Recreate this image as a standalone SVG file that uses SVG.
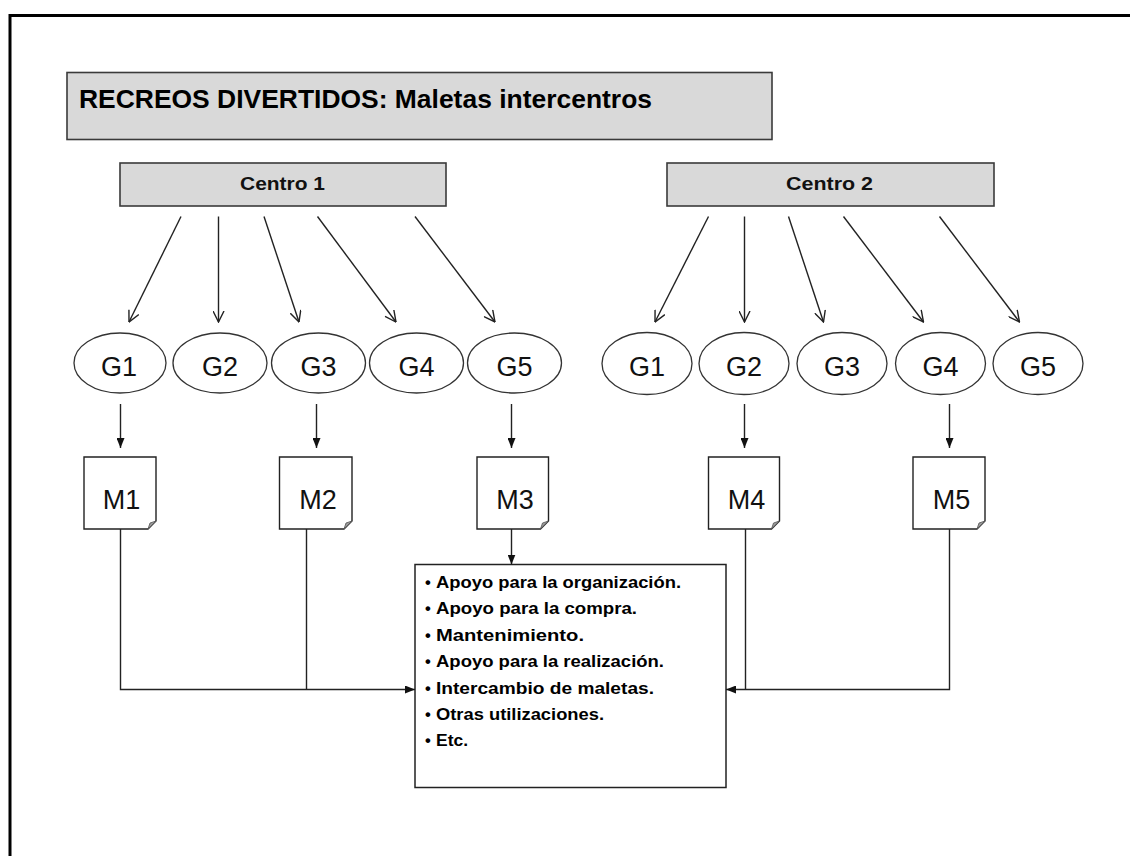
<svg xmlns="http://www.w3.org/2000/svg" width="1130" height="856" viewBox="0 0 1130 856">
  <style>
    .hdr { fill: #d9d9d9; stroke: #3a3a3a; stroke-width: 1.6; }
    .grp { fill: #ffffff; stroke: #333333; stroke-width: 1.3; }
    .doc { fill: #ffffff; stroke: #222222; stroke-width: 1.4; }
    .fold { fill: #9a9a9a; stroke: #555555; stroke-width: 0.8; }
    .list { fill: #ffffff; stroke: #222222; stroke-width: 1.5; }
    .t-title { font-family: "Liberation Sans", Arial, sans-serif; font-weight: bold; font-size: 26px; fill: #000; }
    .t-hdr { font-family: "Liberation Sans", Arial, sans-serif; font-weight: bold; font-size: 19px; fill: #111; }
    .t-node { font-family: "Liberation Sans", Arial, sans-serif; font-size: 27px; fill: #111; text-anchor: middle; }
    .t-item { font-family: "Liberation Sans", Arial, sans-serif; font-weight: bold; font-size: 16.5px; fill: #000; }
    .edge { fill: none; stroke: #222222; stroke-width: 1.4; }
    .fan { marker-end: url(#open); }
    .solid { marker-end: url(#filled); }
  </style>
  <defs>
    <marker id="open" viewBox="0 0 12 12" refX="11.5" refY="6" markerWidth="12" markerHeight="12" markerUnits="userSpaceOnUse" orient="auto">
      <path d="M0.5,0.5 L11.5,6 L0.5,11.5" fill="none" stroke="#222222" stroke-width="1.4"/>
    </marker>
    <marker id="filled" viewBox="0 0 10 8" refX="10" refY="4" markerWidth="10" markerHeight="8" markerUnits="userSpaceOnUse" orient="auto">
      <path d="M0,0 L10,4 L0,8 Z" fill="#111111"/>
    </marker>
  </defs>

  <rect width="1130" height="856" fill="#ffffff"/>
  <!-- page frame -->
  <rect x="10" y="15.5" width="1300" height="1000" fill="none" stroke="#000000" stroke-width="3"/>

  <g id="title">
    <rect class="hdr" x="67" y="72.5" width="705" height="67"/>
    <text class="t-title" x="79" y="108" textLength="573" lengthAdjust="spacingAndGlyphs">RECREOS DIVERTIDOS: Maletas intercentros</text>
  </g>

  <g id="centro1">
    <rect class="hdr" x="120" y="163" width="326" height="43"/>
    <text class="t-hdr" x="240" y="190" textLength="85" lengthAdjust="spacingAndGlyphs">Centro 1</text>
  </g>
  <g id="centro2">
    <rect class="hdr" x="667" y="163" width="327" height="43"/>
    <text class="t-hdr" x="786" y="190" textLength="87" lengthAdjust="spacingAndGlyphs">Centro 2</text>
  </g>

  <!-- groups of Centro 1 -->
  <g id="c1-g1"><ellipse class="grp" cx="120" cy="363" rx="46" ry="30"/><text class="t-node" x="119" y="376">G1</text></g>
  <g id="c1-g2"><ellipse class="grp" cx="220" cy="363" rx="47" ry="30"/><text class="t-node" x="220" y="376">G2</text></g>
  <g id="c1-g3"><ellipse class="grp" cx="318.5" cy="363" rx="47" ry="30"/><text class="t-node" x="318.5" y="376">G3</text></g>
  <g id="c1-g4"><ellipse class="grp" cx="416.5" cy="363" rx="47" ry="30"/><text class="t-node" x="416.5" y="376">G4</text></g>
  <g id="c1-g5"><ellipse class="grp" cx="514.5" cy="363" rx="47" ry="30"/><text class="t-node" x="514.5" y="376">G5</text></g>

  <!-- groups of Centro 2 -->
  <g id="c2-g1"><ellipse class="grp" cx="647" cy="363.5" rx="45" ry="31"/><text class="t-node" x="647" y="376">G1</text></g>
  <g id="c2-g2"><ellipse class="grp" cx="744" cy="363.5" rx="45" ry="31"/><text class="t-node" x="744" y="376">G2</text></g>
  <g id="c2-g3"><ellipse class="grp" cx="842" cy="363.5" rx="45" ry="31"/><text class="t-node" x="842" y="376">G3</text></g>
  <g id="c2-g4"><ellipse class="grp" cx="940.5" cy="363.5" rx="45" ry="31"/><text class="t-node" x="940.5" y="376">G4</text></g>
  <g id="c2-g5"><ellipse class="grp" cx="1038" cy="363.5" rx="45" ry="31"/><text class="t-node" x="1038" y="376">G5</text></g>

  <!-- suitcases (document shapes with folded corner) -->
  <g id="m1">
    <path class="doc" d="M84,457 H156 V521 L148,529 H84 Z"/>
    <path class="fold" d="M156,521 L148,529 L150,523 Z"/>
    <text class="t-node" x="121.5" y="509">M1</text>
  </g>
  <g id="m2">
    <path class="doc" d="M279.5,457 H352 V521 L344,529 H279.5 Z"/>
    <path class="fold" d="M352,521 L344,529 L346,523 Z"/>
    <text class="t-node" x="318" y="509">M2</text>
  </g>
  <g id="m3">
    <path class="doc" d="M477,457 H548.5 V521 L540.5,529 H477 Z"/>
    <path class="fold" d="M548.5,521 L540.5,529 L542.5,523 Z"/>
    <text class="t-node" x="515" y="509">M3</text>
  </g>
  <g id="m4">
    <path class="doc" d="M708.5,457 H779.5 V521 L771.5,529 H708.5 Z"/>
    <path class="fold" d="M779.5,521 L771.5,529 L773.5,523 Z"/>
    <text class="t-node" x="746.5" y="509">M4</text>
  </g>
  <g id="m5">
    <path class="doc" d="M913,457 H985 V521 L977,529 H913 Z"/>
    <path class="fold" d="M985,521 L977,529 L979,523 Z"/>
    <text class="t-node" x="951.5" y="509">M5</text>
  </g>

  <g id="uses">
    <rect class="list" x="415" y="564.5" width="311" height="223"/>
    <g class="t-item">
      <text x="425" y="588">•</text><text x="436" y="588" textLength="245" lengthAdjust="spacingAndGlyphs">Apoyo para la organización.</text>
      <text x="425" y="614">•</text><text x="436" y="614" textLength="201" lengthAdjust="spacingAndGlyphs">Apoyo para la compra.</text>
      <text x="425" y="640.5">•</text><text x="436" y="640.5" textLength="148" lengthAdjust="spacingAndGlyphs">Mantenimiento.</text>
      <text x="425" y="667">•</text><text x="436" y="667" textLength="228" lengthAdjust="spacingAndGlyphs">Apoyo para la realización.</text>
      <text x="425" y="693.5">•</text><text x="436" y="693.5" textLength="218" lengthAdjust="spacingAndGlyphs">Intercambio de maletas.</text>
      <text x="425" y="720">•</text><text x="436" y="720" textLength="168" lengthAdjust="spacingAndGlyphs">Otras utilizaciones.</text>
      <text x="425" y="746">•</text><text x="436" y="746" textLength="32" lengthAdjust="spacingAndGlyphs">Etc.</text>
    </g>
  </g>

  <g id="connectors" class="edge">
    <!-- Centro 1 to its groups -->
    <line class="fan" x1="181" y1="216.5" x2="129" y2="322"/>
    <line class="fan" x1="218.5" y1="216.5" x2="218.5" y2="322"/>
    <line class="fan" x1="264" y1="216.5" x2="299" y2="322"/>
    <line class="fan" x1="317.5" y1="216.5" x2="396" y2="322"/>
    <line class="fan" x1="415" y1="216.5" x2="495" y2="322"/>
    <!-- Centro 2 to its groups -->
    <line class="fan" x1="708.5" y1="216.5" x2="655" y2="322"/>
    <line class="fan" x1="744.5" y1="216.5" x2="744.5" y2="322"/>
    <line class="fan" x1="788.5" y1="216.5" x2="823.5" y2="322"/>
    <line class="fan" x1="843.5" y1="216.5" x2="923.5" y2="322"/>
    <line class="fan" x1="939.5" y1="216.5" x2="1019.5" y2="322"/>
    <!-- groups to suitcases -->
    <line class="solid" x1="120.5" y1="404" x2="120.5" y2="448"/>
    <line class="solid" x1="316.5" y1="404" x2="316.5" y2="448"/>
    <line class="solid" x1="511.5" y1="404" x2="511.5" y2="448"/>
    <line class="solid" x1="744.5" y1="404" x2="744.5" y2="448"/>
    <line class="solid" x1="949.5" y1="404" x2="949.5" y2="448"/>
    <!-- suitcases to uses -->
    <line class="solid" x1="511.5" y1="529" x2="511.5" y2="564.5"/>
    <path class="solid" d="M120.5,529 V689.5 H415"/>
    <path d="M306.5,529 V689.5"/>
    <path class="solid" d="M949.5,529 V689.5 H726"/>
    <path d="M745.5,529 V689.5"/>
  </g>
</svg>
